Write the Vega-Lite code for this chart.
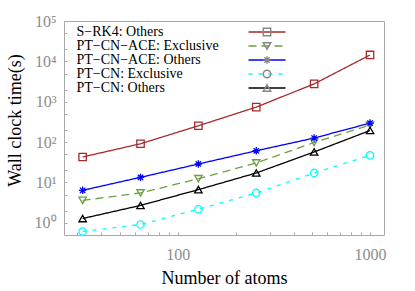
{
  "$schema": "https://vega.github.io/schema/vega-lite/v6.json",
  "width": 320,
  "height": 214,
  "autosize": {"type": "none"},
  "padding": {"left": 64, "top": 21, "right": 31, "bottom": 56},
  "background": "white",
  "config": {
    "view": {"stroke": "#a8a8a8", "strokeWidth": 1},
    "font": "Liberation Serif",
    "style": {"guide-label": {"font": "Liberation Serif"}, "guide-title": {"font": "Liberation Serif"}},
    "legend": {"labelFont": "Liberation Serif", "labelFontSize": 14, "labelColor": "black"},
    "axis": {
      "labelFont": "Liberation Serif",
      "labelFontSize": 16,
      "labelColor": "#8c8c8c",
      "titleFont": "Liberation Serif",
      "titleFontSize": 18,
      "titleColor": "black",
      "titleFontWeight": "normal",
      "domain": false,
      "grid": false,
      "tickColor": "#a8a8a8",
      "tickSize": -3,
      "labelOverlap": false,
      "labelFlush": false
    }
  },
  "data": {
    "values": [
      {"n": 32, "t": 42.8, "s": "S−RK4: Others"},
      {"n": 64, "t": 91, "s": "S−RK4: Others"},
      {"n": 128, "t": 254, "s": "S−RK4: Others"},
      {"n": 256, "t": 736, "s": "S−RK4: Others"},
      {"n": 512, "t": 2770, "s": "S−RK4: Others"},
      {"n": 1000, "t": 14400, "s": "S−RK4: Others"},
      {"n": 32, "t": 3.6, "s": "PT−CN−ACE: Exclusive"},
      {"n": 64, "t": 5.5, "s": "PT−CN−ACE: Exclusive"},
      {"n": 128, "t": 12.4, "s": "PT−CN−ACE: Exclusive"},
      {"n": 256, "t": 30.4, "s": "PT−CN−ACE: Exclusive"},
      {"n": 512, "t": 98, "s": "PT−CN−ACE: Exclusive"},
      {"n": 1000, "t": 265, "s": "PT−CN−ACE: Exclusive"},
      {"n": 32, "t": 6.4, "s": "PT−CN−ACE: Others"},
      {"n": 64, "t": 13.4, "s": "PT−CN−ACE: Others"},
      {"n": 128, "t": 28.7, "s": "PT−CN−ACE: Others"},
      {"n": 256, "t": 61, "s": "PT−CN−ACE: Others"},
      {"n": 512, "t": 126, "s": "PT−CN−ACE: Others"},
      {"n": 1000, "t": 296, "s": "PT−CN−ACE: Others"},
      {"n": 32, "t": 0.61, "s": "PT−CN: Exclusive"},
      {"n": 64, "t": 0.91, "s": "PT−CN: Exclusive"},
      {"n": 128, "t": 2.17, "s": "PT−CN: Exclusive"},
      {"n": 256, "t": 5.5, "s": "PT−CN: Exclusive"},
      {"n": 512, "t": 17.2, "s": "PT−CN: Exclusive"},
      {"n": 1000, "t": 46.9, "s": "PT−CN: Exclusive"},
      {"n": 32, "t": 1.28, "s": "PT−CN: Others"},
      {"n": 64, "t": 2.7, "s": "PT−CN: Others"},
      {"n": 128, "t": 6.65, "s": "PT−CN: Others"},
      {"n": 256, "t": 17.2, "s": "PT−CN: Others"},
      {"n": 512, "t": 57, "s": "PT−CN: Others"},
      {"n": 1000, "t": 194, "s": "PT−CN: Others"}
    ]
  },
  "encoding": {
    "x": {
      "field": "n",
      "type": "quantitative",
      "scale": {"type": "log", "domain": [25.6, 1182], "nice": false},
      "axis": {
        "title": "Number of atoms",
        "values": [30, 40, 50, 60, 70, 80, 90, 100, 200, 300, 400, 500, 600, 700, 800, 900, 1000],
        "labelExpr": "datum.value == 100 ? '100' : datum.value == 1000 ? '1000' : ''",
        "labelPadding": 14,
        "titleBaseline": "middle",
        "titleY": 43
      }
    },
    "y": {
      "field": "t",
      "type": "quantitative",
      "scale": {"type": "log", "domain": [0.5, 100000], "nice": false},
      "axis": {
        "title": "Wall clock time(s)",
        "values": [1, 2, 5, 10, 20, 50, 100, 200, 500, 1000, 2000, 5000, 10000, 20000, 50000, 100000],
        "labelExpr": "indexof([1, 10, 100, 1000, 10000, 100000], datum.value) >= 0 ? '10' + ['⁰', '¹', '²', '³', '⁴', '⁵'][round(log(datum.value) / LN10)] : ''",
        "labelPadding": 11,
        "titleBaseline": "middle",
        "titleX": -49,
        "titleY": 99
      }
    }
  },
  "layer": [
    {
      "mark": {"type": "line", "strokeWidth": 1.3},
      "encoding": {
        "color": {
          "field": "s",
          "type": "nominal",
          "scale": {
            "domain": ["S−RK4: Others", "PT−CN−ACE: Exclusive", "PT−CN−ACE: Others", "PT−CN: Exclusive", "PT−CN: Others"],
            "range": ["#a52a2a", "#6aa040", "#0000ff", "#00ffff", "#000000"]
          },
          "legend": {
            "orient": "none",
            "legendX": 196,
            "legendY": 4,
            "title": null,
            "symbolType": "M-9.25,0H9.25",
            "symbolSize": 16,
            "symbolStrokeWidth": 1.3,
            "labelOffset": -197.5,
            "labelFont": "Liberation Serif",
            "labelFontSize": 14,
            "labelColor": "black",
            "labelLimit": 0,
            "rowPadding": 0,
            "padding": 0
          }
        },
        "strokeDash": {
          "field": "s",
          "type": "nominal",
          "scale": {
            "domain": ["S−RK4: Others", "PT−CN−ACE: Exclusive", "PT−CN−ACE: Others", "PT−CN: Exclusive", "PT−CN: Others"],
            "range": [[1, 0], [8, 5], [1, 0], [4, 6], [1, 0]]
          },
          "legend": {
            "orient": "none",
            "legendX": 196,
            "legendY": 4,
            "title": null,
            "symbolType": "M-9.25,0H9.25",
            "symbolSize": 16,
            "symbolStrokeWidth": 1.3,
            "labelOffset": -197.5,
            "labelFont": "Liberation Serif",
            "labelFontSize": 14,
            "labelColor": "black",
            "labelLimit": 0,
            "rowPadding": 0,
            "padding": 0
          }
        }
      }
    },
    {
      "mark": {"type": "point", "filled": false, "size": 55, "strokeWidth": 1.3, "opacity": 1},
      "encoding": {
        "color": {"field": "s", "type": "nominal"},
        "shape": {
          "field": "s",
          "type": "nominal",
          "sort": ["S−RK4: Others", "PT−CN−ACE: Exclusive", "PT−CN−ACE: Others", "PT−CN: Exclusive", "PT−CN: Others"],
          "scale": {
            "range": ["square", "triangle-down", "M-1,0L1,0M0,-1L0,1M-0.72,-0.72L0.72,0.72M-0.72,0.72L0.72,-0.72", "circle", "triangle-up"]
          },
          "legend": {
            "orient": "none",
            "legendX": 196,
            "legendY": 4,
            "title": null,
            "symbolSize": 55,
            "symbolStrokeWidth": 1.5,
            "symbolOpacity": 1,
            "labelOffset": -197.5,
            "labelFont": "Liberation Serif",
            "labelFontSize": 14,
            "labelColor": "transparent",
            "labelOpacity": 0,
            "labelLimit": 0,
            "rowPadding": 0,
            "padding": 0,
            "encode": {
              "symbols": {
                "update": {
                  "stroke": {"scale": "color", "field": "value"},
                  "fill": {"value": "transparent"},
                  "strokeWidth": {"value": 1.5},
                  "opacity": {"value": 1}
                }
              }
            }
          }
        }
      }
    }
  ]
}
